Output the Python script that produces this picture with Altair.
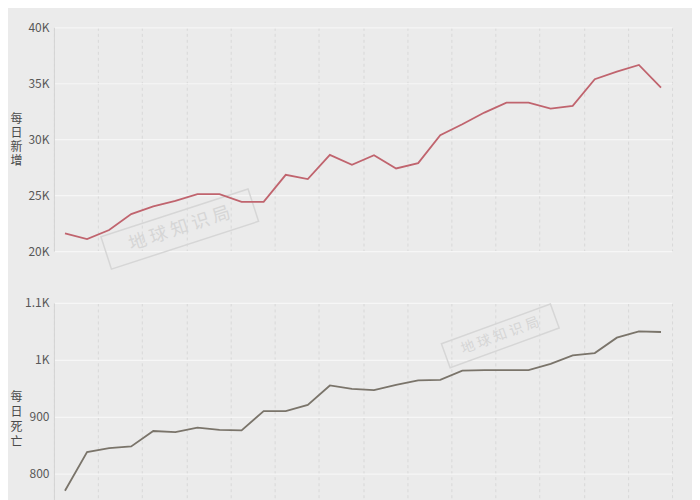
import altair as alt
import pandas as pd

days = list(range(28))
new_cases = [21580, 21070, 21875, 23300, 23990, 24490, 25090, 25090, 24400, 24400,
             26815, 26430, 28600, 27710, 28570, 27380, 27860, 30360, 31340, 32380,
             33270, 33270, 32740, 32980, 35360, 36040, 36640, 34610]
new_deaths = [770, 838, 845, 848, 875, 873, 881, 877, 876, 910,
              910, 921, 955, 949, 947, 956, 964, 965, 981, 982,
              982, 982, 993, 1008, 1012, 1039, 1050, 1049]
top_ticks = [20000, 25000, 30000, 35000, 40000]
bottom_ticks = [800, 900, 1000, 1100]
top_title = ["每", "日", "新", "增"]
bottom_title = ["每", "日", "死", "亡"]
watermark = "地 球 知 识 局"

df = pd.DataFrame({"day": days, "cases": new_cases, "deaths": new_deaths})
grid_vals = [-0.5 + 2 * k for k in range(15)]
FONT = "Noto Sans CJK SC"

xenc = alt.X("day:Q",
             scale=alt.Scale(domain=[-0.5, 27.5], nice=False, zero=False),
             axis=alt.Axis(values=grid_vals, labels=False, ticks=False, domain=False,
                           title=None, grid=True, gridDash=[3, 3],
                           gridColor="#d6d6d6", gridOpacity=0.9))

label_expr = "datum.value >= 1000 ? format(datum.value / 1000, '.1~f') + 'K' : datum.value"

def yaxis(title, ticks, ty, lh):
    return alt.Axis(values=ticks, labelExpr=label_expr, title=title, titleAngle=0,
                    titleAlign="center", titleBaseline="middle", titleFontSize=12,
                    titleLineHeight=lh, titleColor="#4a4a4a", titleFontWeight="normal",
                    titleFont=FONT, titleX=-38, titleY=ty,
                    labelFont=FONT, labelFontSize=12, labelColor="#585858",
                    labelPadding=5, ticks=False, domain=True, domainColor="#d4d4d4",
                    grid=True, gridColor="#f6f6f6", gridWidth=1.2)

top_line = alt.Chart(df).mark_line(color="#c0646e", strokeWidth=1.8).encode(
    x=xenc,
    y=alt.Y("cases:Q", scale=alt.Scale(domain=[20000, 40000], nice=False, zero=False),
            axis=yaxis(top_title, top_ticks, 91, 14)),
)
wm_top_box = alt.Chart(df.head(1)).mark_point(
    shape="M-1,-0.22L1,-0.22L1,0.22L-1,0.22Z", size=24000, angle=342,
    filled=False, stroke="#d6d6d6", strokeWidth=1.5, opacity=1
).encode(x=alt.value(126), y=alt.value(202))
wm_top_text = alt.Chart(df.head(1)).mark_text(
    text=watermark, angle=342, fontSize=18, color="#d6d6d6", font=FONT
).encode(x=alt.value(126), y=alt.value(202))

bottom_line = alt.Chart(df).mark_line(color="#7a746a", strokeWidth=1.8).encode(
    x=xenc,
    y=alt.Y("deaths:Q", scale=alt.Scale(domain=[700, 1100], nice=False, zero=False),
            axis=yaxis(bottom_title, bottom_ticks, 94, 15)),
)
wm_bot_box = alt.Chart(df.head(1)).mark_point(
    shape="M-1,-0.22L1,-0.22L1,0.22L-1,0.22Z", size=13500, angle=340,
    filled=False, stroke="#d6d6d6", strokeWidth=1.5, opacity=1
).encode(x=alt.value(447), y=alt.value(33))
wm_bot_text = alt.Chart(df.head(1)).mark_text(
    text=watermark, angle=340, fontSize=14, color="#d6d6d6", font=FONT
).encode(x=alt.value(447), y=alt.value(33))

top = alt.layer(wm_top_box, wm_top_text, top_line).properties(width=619, height=224)
bottom = alt.layer(wm_bot_box, wm_bot_text, bottom_line).properties(width=619, height=228)

chart = alt.vconcat(top, bottom, spacing=24).properties(
    background="#ebebeb",
    padding={"top": 13, "left": 1, "right": 20, "bottom": 5},
).configure_view(stroke=None)

chart.save("out.html", embed_options={"renderer": "svg", "actions": False})
